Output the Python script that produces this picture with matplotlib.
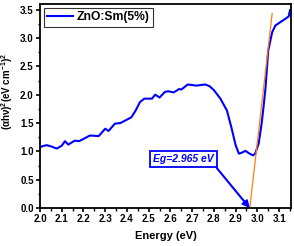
import matplotlib
matplotlib.use('Agg')
import matplotlib.pyplot as plt
from matplotlib.ticker import MultipleLocator

plt.rcParams['font.family'] = ['Liberation Sans', 'DejaVu Sans']
plt.rcParams['font.weight'] = 'bold'
plt.rcParams['mathtext.fontset'] = 'custom'
plt.rcParams['mathtext.bf'] = 'Liberation Sans:bold'
plt.rcParams['mathtext.rm'] = 'Liberation Sans:bold'
plt.rcParams['mathtext.default'] = 'bf'

# data
energy = [2.00, 2.01, 2.03, 2.05, 2.077, 2.10, 2.115, 2.13, 2.16, 2.18, 2.20, 2.23,
          2.27, 2.30, 2.315, 2.345, 2.37, 2.40, 2.42, 2.44, 2.46, 2.48, 2.515, 2.53,
          2.55, 2.575, 2.59, 2.615, 2.64, 2.65, 2.68, 2.72, 2.76, 2.78, 2.80, 2.83,
          2.86, 2.88, 2.90, 2.915, 2.93, 2.945, 2.96, 2.98, 2.99, 3.006, 3.02, 3.03,
          3.037, 3.05, 3.068, 3.083, 3.106, 3.13, 3.144, 3.15]
ahv2 = [1.07, 1.09, 1.11, 1.09, 1.05, 1.10, 1.18, 1.12, 1.19, 1.18, 1.22, 1.28,
        1.27, 1.40, 1.36, 1.49, 1.50, 1.56, 1.60, 1.72, 1.87, 1.93, 1.93, 2.00,
        1.95, 2.05, 2.06, 2.04, 2.10, 2.09, 2.18, 2.16, 2.18, 2.15, 2.08, 1.93,
        1.72, 1.43, 1.11, 0.96, 0.98, 1.01, 0.97, 0.93, 0.96, 1.14, 1.50, 1.84,
        2.10, 2.78, 3.10, 3.22, 3.28, 3.34, 3.38, 3.49]
fit_x = [2.965, 3.068]
fit_y = [0.0, 3.43]
eg = 2.965

fig = plt.figure(figsize=(2.94, 2.46), dpi=100)
ax = fig.add_axes([0.136, 0.154, 0.854, 0.83])

ax.plot(energy, ahv2, color='#0000ff', lw=1.5, label='ZnO:Sm(5%)')
ax.plot(fit_x, fit_y, color='#ff7f0e', lw=0.9)

ax.set_xlim(2.0, 3.155)
ax.set_ylim(0, 3.6)
ax.xaxis.set_major_locator(MultipleLocator(0.1))
ax.xaxis.set_minor_locator(MultipleLocator(0.05))
ax.yaxis.set_major_locator(MultipleLocator(0.5))
ax.yaxis.set_minor_locator(MultipleLocator(0.25))
ax.tick_params(which='major', direction='out', length=3, width=1.2, labelsize=7, pad=1.5)
ax.tick_params(which='minor', direction='out', length=1.8, width=1)
for s in ax.spines.values():
    s.set_linewidth(1.3)
for lab in ax.get_xticklabels() + ax.get_yticklabels():
    lab.set_fontweight('bold')

ax.set_xlabel('Energy (eV)', fontsize=8, fontweight='bold')
ax.xaxis.set_label_coords(0.5, -0.112)
ax.set_ylabel(r'(αhν)$^2$(eV cm$^{-1}$)$^2$', fontsize=7, fontweight='bold')
ax.yaxis.set_label_coords(-0.098, 0.57)

leg = ax.legend(loc='upper left', frameon=True, fancybox=False,
                handlelength=2.1, handletextpad=0.3, borderpad=0.3,
                borderaxespad=0.3, prop={'weight': 'bold', 'size': 8.7})
leg.get_frame().set_edgecolor('black')
leg.get_frame().set_linewidth(0.8)

ax.annotate('Eg=2.965 eV', xy=(eg, 0.0), xytext=(2.66, 0.86),
            fontsize=7.5, fontweight='bold', style='italic', color='#0000ff',
            ha='center', va='center',
            bbox=dict(boxstyle='square,pad=0.3', fc='white', ec='#0000ff', lw=1.3),
            arrowprops=dict(arrowstyle='-|>', color='#0000ff', lw=1.5,
                            mutation_scale=10, shrinkA=0, shrinkB=0,
                            relpos=(1.0, 0.0)))

fig.savefig('out.png', dpi=100)
